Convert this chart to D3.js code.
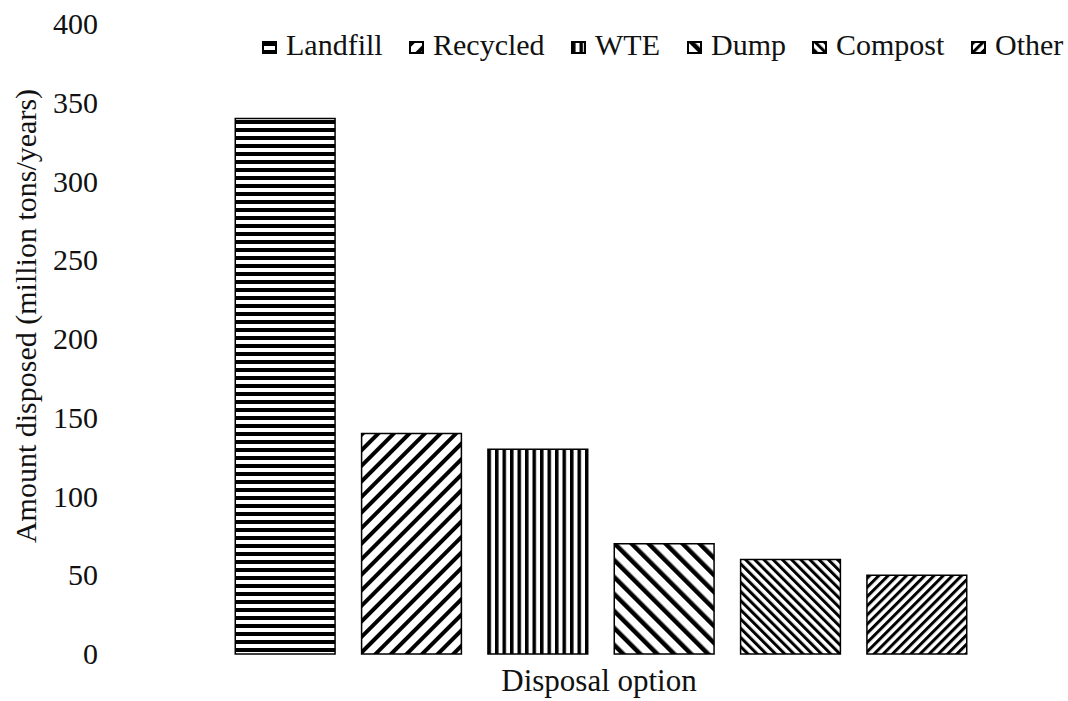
<!DOCTYPE html>
<html>
<head>
<meta charset="utf-8">
<script src="https://cdn.jsdelivr.net/npm/d3@7"></script>
<style>
  body { margin: 0; background: #fff; }
  svg text { font-family: 'Liberation Serif', 'Times New Roman', 'DejaVu Serif', serif; }
</style>
</head>
<body>
<svg id="chart" width="1068" height="701"></svg>
<script>
// Disposal amounts by option (million tons/year)
const categories = ["Landfill", "Recycled", "WTE", "Dump", "Compost", "Other"];
const values = [340, 140, 130, 70, 60, 50];
const yTicks = [0, 50, 100, 150, 200, 250, 300, 350, 400];

// hatch pattern per category: angle of stripes, period, stripe width
const hatches = {
  Landfill: { angle: 90, period: 8, stroke: 4 },
  Recycled: { angle: 45, period: 11, stroke: 4 },
  WTE:      { angle: 0,  period: 7.5, stroke: 3.5 },
  Dump:     { angle: -45, period: 12, stroke: 4.5 },
  Compost:  { angle: -45, period: 6.5, stroke: 3 },
  Other:    { angle: 45, period: 6.5, stroke: 3 }
};

const svg = d3.select("#chart");

const x = d3.scaleBand().domain(categories).range([222, 980]).paddingInner(0.21).paddingOuter(0.105);
const y = d3.scaleLinear().domain([0, 400]).range([654, 24]);

const defs = svg.append("defs");
categories.forEach((c, i) => {
  const h = hatches[c];
  const p = defs.append("pattern")
    .attr("id", "hatch" + i)
    .attr("patternUnits", "userSpaceOnUse")
    .attr("width", h.period)
    .attr("height", h.period)
    .attr("patternTransform", `rotate(${h.angle})`);
  p.append("rect").attr("width", h.period).attr("height", h.period).attr("fill", "#fff");
  p.append("rect").attr("x", 0).attr("y", 0).attr("width", h.stroke).attr("height", h.period).attr("fill", "#000");
});

// y axis labels only: no domain line, no tick marks
const yAxis = svg.append("g")
  .attr("transform", "translate(98,0)")
  .call(d3.axisLeft(y).tickValues(yTicks).tickSize(0).tickPadding(0));
yAxis.attr("font-family", null).attr("font-size", null);
yAxis.select(".domain").remove();
yAxis.selectAll("text")
  .style("font-size", "30px")
  .attr("fill", "#111");

// bars
svg.append("g").selectAll("rect")
  .data(categories)
  .join("rect")
  .attr("x", d => x(d))
  .attr("width", x.bandwidth())
  .attr("y", (d, i) => y(values[i]))
  .attr("height", (d, i) => y(0) - y(values[i]))
  .attr("fill", (d, i) => `url(#hatch${i})`)
  .attr("stroke", "#000")
  .attr("stroke-width", 1.5);

// axis titles
svg.append("text")
  .attr("x", 599).attr("y", 691)
  .attr("text-anchor", "middle")
  .style("font-size", "31px")
  .attr("fill", "#111")
  .text("Disposal option");

svg.append("text")
  .attr("transform", "translate(36,316) rotate(-90)")
  .attr("text-anchor", "middle")
  .style("font-size", "30px")
  .attr("fill", "#111")
  .text("Amount disposed (million tons/years)");

// legend
const legendX = [263, 410, 572, 688, 813, 972];
const legend = svg.append("g");
categories.forEach((c, i) => {
  const g = legend.append("g").attr("transform", `translate(${legendX[i]},42)`);
  g.append("rect")
    .attr("width", 13).attr("height", 11)
    .attr("fill", `url(#hatch${i})`)
    .attr("stroke", "#000").attr("stroke-width", 2);
  g.append("text")
    .attr("x", 23).attr("y", 13)
    .style("font-size", "30px")
    .attr("fill", "#111")
    .text(c);
});
</script>
</body>
</html>
